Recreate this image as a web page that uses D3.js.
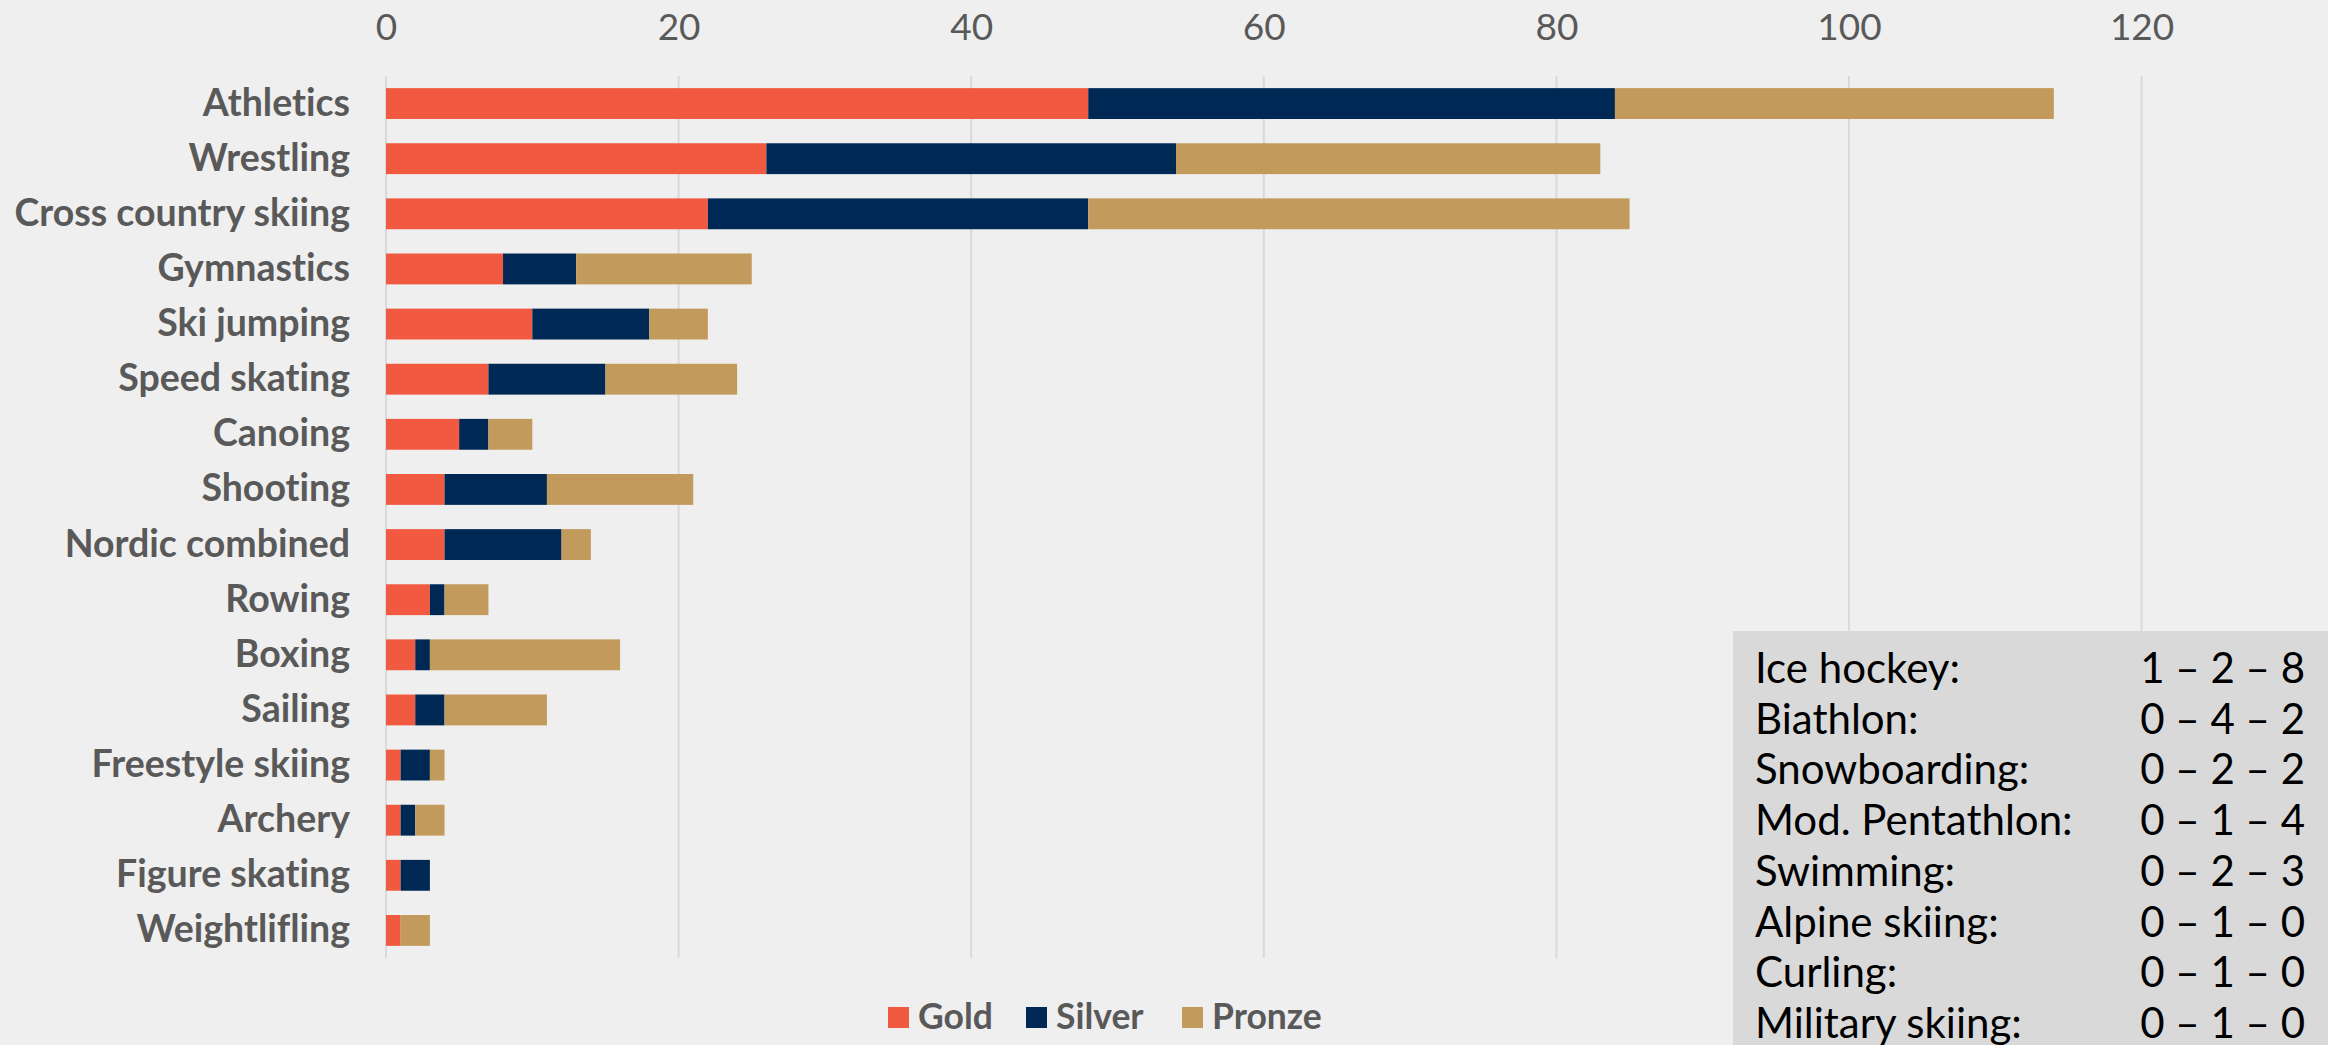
<!DOCTYPE html>
<html>
<head>
<meta charset="utf-8">
<script src="https://cdn.jsdelivr.net/npm/d3@7"></script>
<style>
  body { margin: 0; background: #efefef; }
  svg { display: block; font-family: Lato, sans-serif; font-variant-ligatures: none; }
</style>
</head>
<body>
<div id="chart"></div>
<script>
const sports = ['Athletics', 'Wrestling', 'Cross country skiing', 'Gymnastics', 'Ski jumping',
  'Speed skating', 'Canoing', 'Shooting', 'Nordic combined', 'Rowing', 'Boxing', 'Sailing',
  'Freestyle skiing', 'Archery', 'Figure skating', 'Weightlifling'];
const gold   = [48, 26, 22, 8, 10, 7, 5, 4, 4, 3, 2, 2, 1, 1, 1, 1];
const silver = [36, 28, 26, 5, 8, 8, 2, 7, 8, 1, 1, 2, 2, 1, 2, 0];
const bronze = [30, 29, 37, 12, 4, 9, 3, 10, 2, 3, 13, 7, 1, 2, 0, 2];
const seriesNames = ['Gold', 'Silver', 'Pronze'];
const xTicks = [0, 20, 40, 60, 80, 100, 120];

const otherSports = ['Ice hockey:', 'Biathlon:', 'Snowboarding:', 'Mod. Pentathlon:', 'Swimming:',
  'Alpine skiing:', 'Curling:', 'Military skiing:'];
const otherMedals = ['1 – 2 – 8', '0 – 4 – 2', '0 – 2 – 2', '0 – 1 – 4', '0 – 2 – 3',
  '0 – 1 – 0', '0 – 1 – 0', '0 – 1 – 0'];

const W = 2328, H = 1045;
const colors = ['#f15a40', '#002855', '#c29a5b'];

const rows = sports.map((s, i) => ({ sport: s, Gold: gold[i], Silver: silver[i], Pronze: bronze[i] }));
const stacked = d3.stack().keys(seriesNames)(rows);

const svg = d3.select('#chart').append('svg')
  .attr('width', W)
  .attr('height', H);

svg.append('rect').attr('width', W).attr('height', H).attr('fill', '#efefef');

const x = d3.scaleLinear().domain([0, 130]).range([386, 386 + 130 * 14.63]);
const y = d3.scaleBand().domain(sports).range([76, 958]).paddingInner(0.44).paddingOuter(0.22);

// gridlines
svg.append('g')
  .selectAll('line')
  .data(xTicks)
  .join('line')
  .attr('x1', d => x(d)).attr('x2', d => x(d))
  .attr('y1', 76).attr('y2', 958)
  .attr('stroke', '#d9d9d9')
  .attr('stroke-width', 2);

// top axis
const xAxis = svg.append('g')
  .attr('transform', 'translate(0,40)')
  .call(d3.axisTop(x).tickValues(xTicks).tickSize(0).tickPadding(0));
xAxis.select('.domain').remove();
xAxis.selectAll('text')
  .attr('font-family', 'Lato')
  .attr('font-size', 37)
  .attr('fill', '#595959');

// bars
svg.append('g')
  .selectAll('g')
  .data(stacked)
  .join('g')
  .attr('fill', (d, i) => colors[i])
  .selectAll('rect')
  .data(d => d)
  .join('rect')
  .attr('x', d => x(d[0]))
  .attr('y', d => y(d.data.sport))
  .attr('width', d => x(d[1]) - x(d[0]))
  .attr('height', y.bandwidth());

// category axis
const yAxis = svg.append('g')
  .attr('transform', `translate(${x(0)},0)`)
  .call(d3.axisLeft(y).tickSize(0).tickPadding(36));
yAxis.select('.domain').remove();
yAxis.selectAll('text')
  .attr('font-family', 'Lato')
  .attr('font-weight', 'bold')
  .attr('font-size', 37.5)
  .attr('fill', '#595959');

// legend
const legendX = [888, 1026, 1182];
const legend = svg.append('g')
  .selectAll('g')
  .data(seriesNames)
  .join('g')
  .attr('transform', (d, i) => `translate(${legendX[i]},1007)`);
legend.append('rect')
  .attr('width', 21).attr('height', 21)
  .attr('fill', (d, i) => colors[i]);
legend.append('text')
  .attr('x', 30).attr('y', 22)
  .attr('font-size', 35.5)
  .attr('font-weight', 'bold')
  .attr('fill', '#595959')
  .text(d => d);

// box with other sports
const box = svg.append('g');
box.append('rect')
  .attr('x', 1733).attr('y', 631)
  .attr('width', W - 1733).attr('height', H - 631)
  .attr('fill', '#d9d9d9');
box.selectAll('text.name')
  .data(otherSports)
  .join('text')
  .attr('class', 'name')
  .attr('x', 1755)
  .attr('y', (d, i) => 683 + i * 50.7)
  .attr('font-size', 42)
  .attr('fill', '#000')
  .text(d => d);
box.selectAll('text.val')
  .data(otherMedals)
  .join('text')
  .attr('class', 'val')
  .attr('x', 2305)
  .attr('y', (d, i) => 683 + i * 50.7)
  .attr('text-anchor', 'end')
  .attr('font-size', 42)
  .attr('fill', '#000')
  .text(d => d);
</script>
</body>
</html>
